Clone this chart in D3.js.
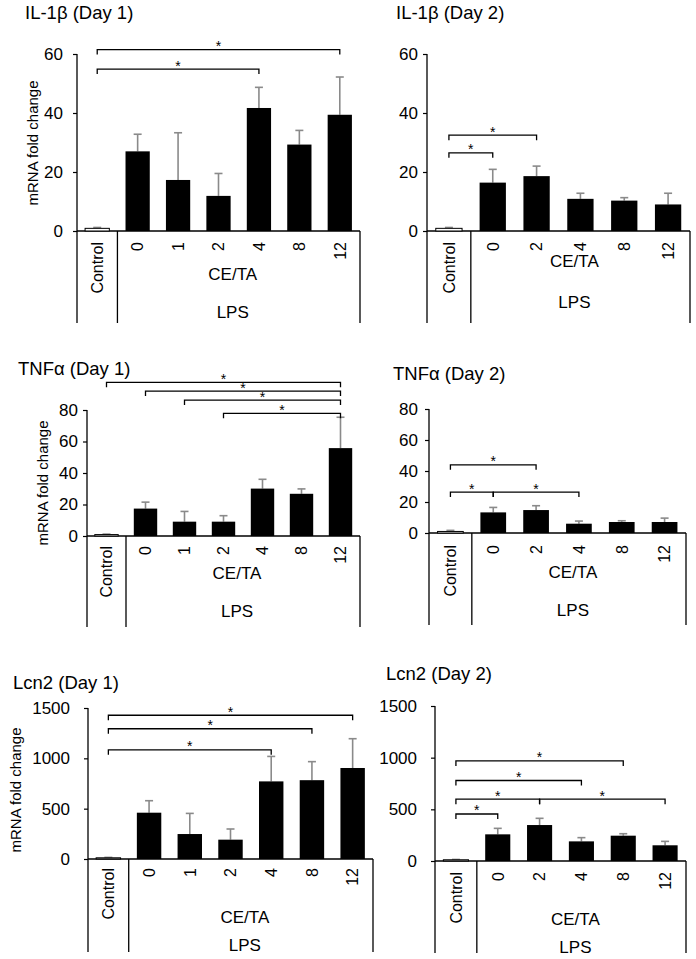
<!DOCTYPE html>
<html><head><meta charset="utf-8">
<script src="https://cdn.jsdelivr.net/npm/d3@7"></script>
<style>
body{margin:0;background:#fff}
svg{display:block;font-family:"Liberation Sans",Arial,sans-serif}
</style>
</head><body>
<svg id="c" width="696" height="959"></svg>
<script>
// ---------- data ----------
const catsDay1 = ["Control","0","1","2","4","8","12"];
const catsDay2 = ["Control","0","2","4","8","12"];
const groupLabel = "CE/TA";
const outerLabel = "LPS";
const yAxisLabel = "mRNA fold change";

const titles = ["IL-1β (Day 1)","IL-1β (Day 2)","TNFα (Day 1)","TNFα (Day 2)","Lcn2 (Day 1)","Lcn2 (Day 2)"];

const ticksIL  = [0,20,40,60];
const ticksTNF = [0,20,40,60,80];
const ticksLcn = [0,500,1000,1500];

const il1bDay1    = [0.9, 27.0, 17.3, 11.9, 41.7, 29.3, 39.4];
const il1bDay1Err = [0.3, 5.8, 16.0, 7.6, 7.0, 4.8, 12.8];
const il1bDay2    = [0.9, 16.4, 18.6, 10.9, 10.3, 9.0];
const il1bDay2Err = [0.3, 4.5, 3.4, 1.9, 1.0, 3.8];
const tnfDay1     = [0.9, 17.4, 9.1, 9.1, 30.1, 26.8, 55.8];
const tnfDay1Err  = [0.3, 4.1, 6.5, 3.8, 5.9, 3.1, 19.6];
const tnfDay2     = [1.0, 13.3, 14.8, 6.0, 7.1, 7.1];
const tnfDay2Err  = [0.7, 3.2, 2.8, 1.7, 0.8, 2.5];
const lcn2Day1    = [12, 460, 248, 192, 771, 783, 904];
const lcn2Day1Err = [4, 119, 205, 106, 248, 184, 291];
const lcn2Day2    = [12, 258, 348, 190, 245, 152];
const lcn2Day2Err = [3, 58, 65, 36, 19, 38];

// significance brackets: [from, to, level]
const il1bDay1Sig = [["Control","12",61.5],["Control","4",54.9]];
const il1bDay2Sig = [["Control","2",32.5],["Control","0",26.5]];
const tnfDay1Sig  = [["Control","12",97.6],["0","12",92],["1","12",86.3],["2","12",77.9]];
const tnfDay2Sig  = [["Control","2",44],["Control","0",26.4],["0","4",26.4]];
const lcn2Day1Sig = [["Control","12",1428],["Control","8",1294],["Control","4",1085]];
const lcn2Day2Sig = [["Control","8",968],["Control","4",779],["Control","2",598],["2","12",598],["Control","0",455]];

// ---------- layout ----------
const layouts = [
  {tx:25,  ty:19,  ax:77,  rx:360, y0:231, yt:54,  bot:323, pad:10, lblTop:242, ceY:280, lpsY:318, ylab:[33,143]},
  {tx:396, ty:19,  ax:427, rx:690, y0:231, yt:54,  bot:323, pad:5,  lblTop:242, ceY:267, lpsY:308, ylab:null},
  {tx:18,  ty:375, ax:87,  rx:360, y0:536, yt:410, bot:627, pad:5,  lblTop:546, ceY:579, lpsY:617, ylab:[43,483]},
  {tx:393, ty:380, ax:429, rx:686, y0:533, yt:409, bot:625, pad:7,  lblTop:545, ceY:578, lpsY:616, ylab:null},
  {tx:13,  ty:689, ax:88,  rx:373, y0:859, yt:708, bot:952, pad:14, lblTop:868, ceY:923, lpsY:951, ylab:[16,790]},
  {tx:386, ty:680, ax:435, rx:686, y0:861, yt:706, bot:953, pad:14, lblTop:872, ceY:925, lpsY:953, ylab:null}
];

const panels = [
  {cats:catsDay1, vals:il1bDay1, errs:il1bDay1Err, ticks:ticksIL,  sig:il1bDay1Sig},
  {cats:catsDay2, vals:il1bDay2, errs:il1bDay2Err, ticks:ticksIL,  sig:il1bDay2Sig},
  {cats:catsDay1, vals:tnfDay1,  errs:tnfDay1Err,  ticks:ticksTNF, sig:tnfDay1Sig},
  {cats:catsDay2, vals:tnfDay2,  errs:tnfDay2Err,  ticks:ticksTNF, sig:tnfDay2Sig},
  {cats:catsDay1, vals:lcn2Day1, errs:lcn2Day1Err, ticks:ticksLcn, sig:lcn2Day1Sig},
  {cats:catsDay2, vals:lcn2Day2, errs:lcn2Day2Err, ticks:ticksLcn, sig:lcn2Day2Sig}
];

const svg = d3.select("#c");
const errColor = "#8a8a8a";

panels.forEach((p, i) => {
  const L = layouts[i];
  const g = svg.append("g");
  const x = d3.scaleBand().domain(p.cats).range([L.ax, L.rx]).paddingInner(0.4).paddingOuter(0.2);
  const y = d3.scaleLinear().domain([0, p.ticks[p.ticks.length-1]]).range([L.y0, L.yt]);
  const cx = c => x(c) + x.bandwidth()/2;

  // title
  g.append("text").attr("x", L.tx).attr("y", L.ty).attr("font-size", 18.5).attr("fill","#000").text(titles[i]);

  // y axis ticks
  const ya = g.append("g").attr("transform", `translate(${L.ax},0)`)
    .call(d3.axisLeft(y).tickValues(p.ticks).tickFormat(d3.format("d")).tickSize(4).tickSizeOuter(0).tickPadding(L.pad));
  ya.attr("font-family", null).attr("font-size", 17);
  ya.select(".domain").remove();
  ya.selectAll("line").attr("stroke","#000").attr("stroke-width",1.2);
  ya.selectAll("text").attr("fill","#000");

  // y axis line (extends through category area)
  g.append("line").attr("x1",L.ax).attr("x2",L.ax).attr("y1",L.yt).attr("y2",L.bot).attr("stroke","#000").attr("stroke-width",1.3);
  // x baseline
  g.append("line").attr("x1",L.ax).attr("x2",L.rx).attr("y1",L.y0).attr("y2",L.y0).attr("stroke","#000").attr("stroke-width",1.3);
  // divider & right border
  [L.ax + x.step(), L.rx].forEach(xx => {
    g.append("line").attr("x1",xx).attr("x2",xx).attr("y1",L.y0).attr("y2",L.bot).attr("stroke","#000").attr("stroke-width",1.3);
  });

  // error bars (upper only)
  const eg = g.append("g").attr("stroke", errColor).attr("stroke-width",1.6);
  p.cats.forEach((c, k) => {
    const top = y(p.vals[k] + p.errs[k]);
    eg.append("line").attr("x1",cx(c)).attr("x2",cx(c)).attr("y1",y(p.vals[k])).attr("y2",top);
    eg.append("line").attr("x1",cx(c)-4).attr("x2",cx(c)+4).attr("y1",top).attr("y2",top);
  });

  // bars
  g.selectAll("rect.bar").data(p.cats).join("rect")
    .attr("x", c => x(c)).attr("width", x.bandwidth())
    .attr("y", (c,k) => y(p.vals[k])).attr("height", (c,k) => L.y0 - y(p.vals[k]))
    .attr("fill", (c,k) => k === 0 ? "#fff" : "#000")
    .attr("stroke", "#000").attr("stroke-width", (c,k) => k === 0 ? 1 : 0);

  // category labels (rotated)
  p.cats.forEach(c => {
    g.append("text").attr("transform", `translate(${cx(c)},${L.lblTop}) rotate(-90)`)
      .attr("text-anchor","end").attr("dy","0.36em").attr("font-size",16).attr("fill","#000").text(c);
  });

  // group labels
  const gx = (L.ax + x.step() + L.rx)/2 - 6;
  g.append("text").attr("x",gx).attr("y",L.ceY).attr("text-anchor","middle").attr("font-size",17).attr("fill","#000").text(groupLabel);
  g.append("text").attr("x",gx).attr("y",L.lpsY).attr("text-anchor","middle").attr("font-size",17).attr("fill","#000").text(outerLabel);

  // y axis title
  if (L.ylab) {
    g.append("text").attr("transform", `translate(${L.ylab[0]},${L.ylab[1]}) rotate(-90)`)
      .attr("text-anchor","middle").attr("dy","0.35em").attr("font-size",15).attr("fill","#000").text(yAxisLabel);
  }

  // significance brackets
  p.sig.forEach(([a, b, lv]) => {
    const x1 = cx(a), x2 = cx(b), ly = y(lv), t = 5;
    g.append("path").attr("d", `M${x1},${ly+t}V${ly}H${x2}V${ly+t}`)
      .attr("fill","none").attr("stroke","#000").attr("stroke-width",1.3);
    g.append("text").attr("x",(x1+x2)/2).attr("y",ly+1.5).attr("text-anchor","middle").attr("font-size",14).attr("fill","#000").text("*");
  });
});
</script>
</body></html>
